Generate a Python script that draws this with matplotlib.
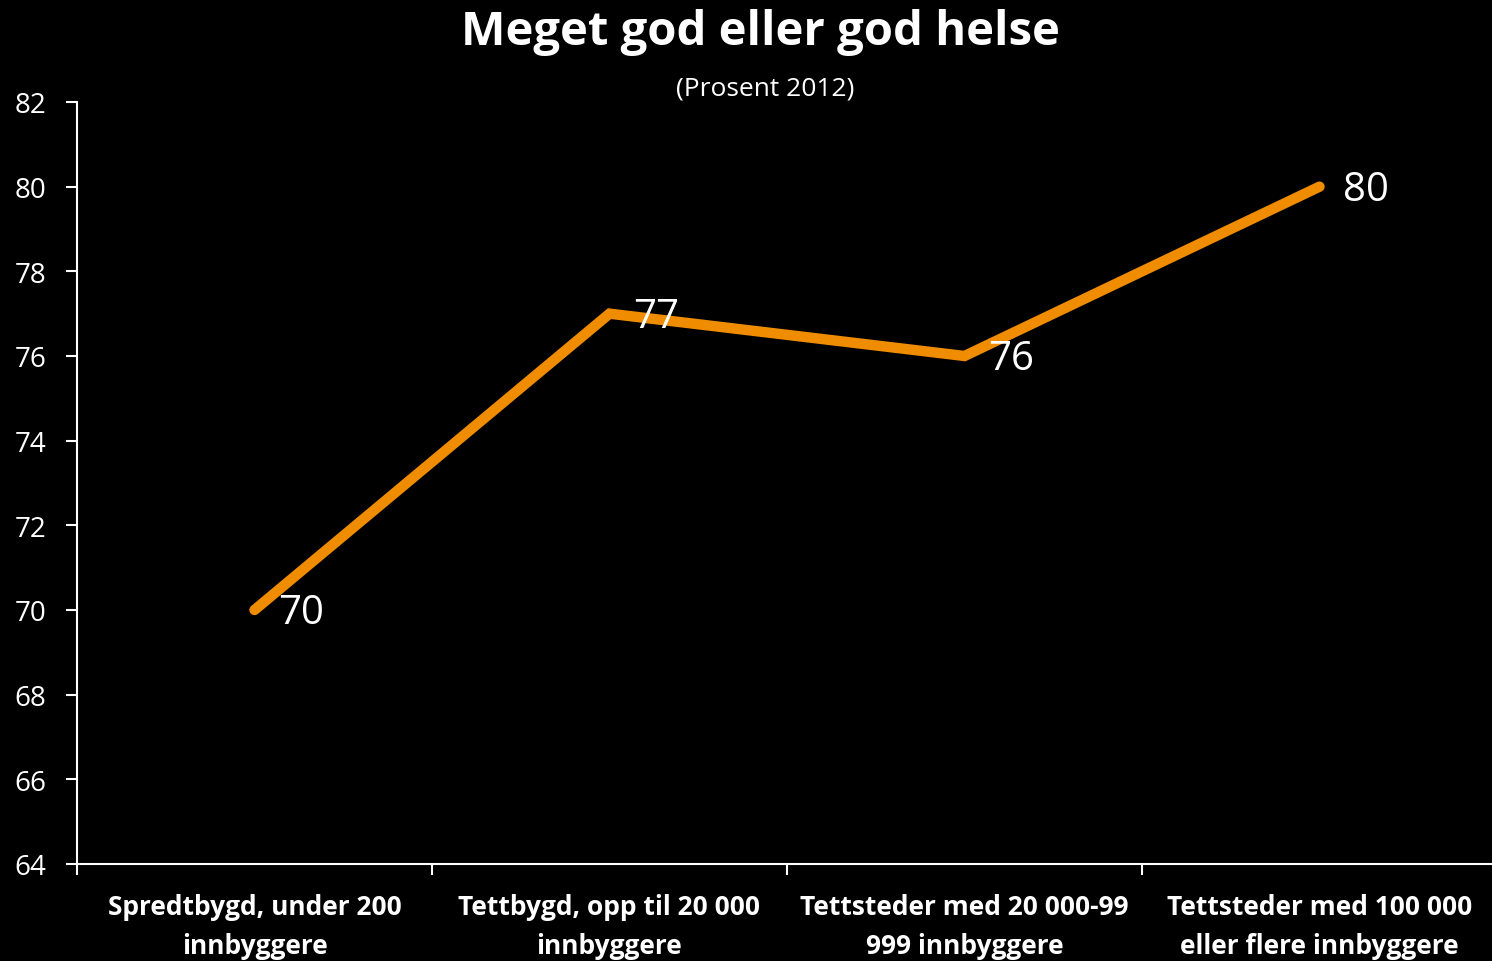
import matplotlib.pyplot as plt
from matplotlib.ticker import FixedLocator

categories = [
    'Spredtbygd, under 200\ninnbyggere',
    'Tettbygd, opp til 20 000\ninnbyggere',
    'Tettsteder med 20 000-99\n999 innbyggere',
    'Tettsteder med 100 000\neller flere innbyggere',
]
values = [70, 77, 76, 80]
yticks = list(range(64, 83, 2))

plt.rcParams['font.family'] = ['Open Sans', 'DejaVu Sans']

fig = plt.figure(figsize=(14.92, 9.62), dpi=100, facecolor='black')
ax = fig.add_axes([77 / 1492, 97 / 962, 1420 / 1492, 762 / 962], facecolor='black')

x = list(range(len(values)))
ax.plot(x, values, color='#F08C00', lw=7.5, solid_capstyle='round', solid_joinstyle='miter')
for xi, v in zip(x, values):
    ax.annotate(str(v), (xi, v), xytext=(17, -2), textcoords='offset points',
                color='white', fontsize=29, va='center', ha='left')

ax.set_xlim(-0.5, 3.5)
ax.set_ylim(64, 82)
ax.set_yticks(yticks)
ax.set_xticks(x)
ax.set_xticklabels(categories, fontsize=19, fontweight='bold', color='white', linespacing=1.55)
ax.tick_params(axis='x', length=0, pad=21)
ax.xaxis.set_minor_locator(FixedLocator([-0.5, 0.5, 1.5, 2.5]))
ax.tick_params(axis='x', which='minor', length=8, width=1.5, color='white', direction='out')
ax.tick_params(axis='y', length=8, width=1.5, color='white', labelcolor='white', labelsize=20, pad=14)

for side in ['top', 'right']:
    ax.spines[side].set_visible(False)
for side in ['left', 'bottom']:
    ax.spines[side].set_color('white')
    ax.spines[side].set_linewidth(1.5)

fig.text(0.51, 0.966, 'Meget god eller god helse', ha='center', va='center',
         color='white', fontsize=34, fontweight='bold')
fig.text(0.513, 0.908, '(Prosent 2012)', ha='center', va='center', color='white', fontsize=19)

fig.savefig('out.png', dpi=100, facecolor='black')
